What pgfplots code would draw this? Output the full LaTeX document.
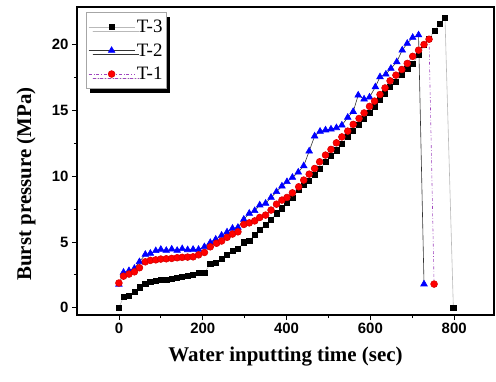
\documentclass[border=0pt]{standalone}
\usepackage{fontspec}
\setmainfont{Liberation Serif}
\setsansfont{Liberation Sans}
\usepackage{pgfplots}
\pgfplotsset{compat=1.18}
\usetikzlibrary{plotmarks,shadows}
\definecolor{tonepurple}{RGB}{160,70,190}
\begin{document}
\begin{tikzpicture}
\begin{axis}[
  name=ax,
  scale only axis,
  width=417bp, height=308bp,
  xmin=-100, xmax=895,
  ymin=-0.55, ymax=22.85,
  xtick={0,200,400,600,800},
  ytick={0,5,10,15,20},
  minor x tick num=1,
  minor y tick num=1,
  tick pos=left,
  tick align=outside,
  major tick length=5bp,
  minor tick length=3bp,
  every tick/.style={black, line width=0.8bp},
  axis line style={black, line width=1.1bp},
  /pgf/number format/assume math mode=true,
  tick label style={font=\sffamily\bfseries\fontsize{15}{15}\selectfont},
  xlabel={Water inputting time (sec)},
  ylabel={Burst pressure (MPa)},
  label style={font=\bfseries\fontsize{21}{21}\selectfont},
  xlabel style={at={(axis description cs:0.5,-0.1364)}, anchor=center},
  ylabel style={at={(axis description cs:-0.1223,0.425)}, anchor=center},
  legend style={at={(axis description cs:0.0216,0.983)}, anchor=north west,
    draw=gray!70, line width=0.6bp, fill=white,
    font=\fontsize{19}{19}\selectfont,
    inner xsep=2bp, inner ysep=5.5bp, row sep=5.5bp,
    cells={anchor=west},
    drop shadow={shadow xshift=4bp, shadow yshift=-4bp, fill=black, opacity=1}},
  legend image code/.code={%
    \draw[mark repeat=2,mark phase=2] plot coordinates {(0bp,0bp) (23bp,0bp) (46bp,0bp)};},
]
\addplot[color=gray!55, line width=0.6bp, mark=square*, mark size=2.6bp,
  mark options={solid, fill=black, draw=black}] coordinates {
(0,0) (11,0.84) (24,0.89) (37,1.22) (49,1.55) (63,1.85) (75,1.98) (88,2.05)
(100,2.1) (113,2.15) (126,2.23) (139,2.3) (151,2.35) (164,2.4) (177,2.48)
(190,2.66) (204,2.66) (218,3.32) (231,3.42) (246,3.7) (258,4.0) (271,4.33)
(284,4.46) (298,4.97) (311,5.06) (324,5.57) (336,5.95) (350,6.33) (363,6.71)
(376,7.17) (389,7.55) (401,7.97) (414,8.38) (429,8.94) (441,9.32) (454,9.65)
(468,10.08) (480,10.53) (493,11.09) (506,11.54) (519,11.97) (532,12.48)
(546,12.98) (559,13.42) (572,13.87) (585,14.33) (598,14.84) (610,15.3)
(623,15.8) (635,16.3) (647,16.78) (661,17.16) (675,17.67) (688,18.18)
(701,18.56) (715,19.19) (728,19.95) (740,20.45) (753,21.03) (766,21.6)
(778,22.05) (798,0)
};
\addlegendentry{T-3}
\addplot[color=gray!40!black, line width=0.6bp, mark=triangle*, mark size=3.8bp,
  mark options={solid, fill=blue, draw=blue}] coordinates {
(0,1.78) (11,2.69) (24,2.81) (37,2.99) (49,3.49) (63,4.05) (75,4.13) (88,4.33)
(100,4.43) (113,4.35) (126,4.45) (139,4.35) (151,4.48) (164,4.4) (177,4.43)
(190,4.43) (204,4.63) (218,4.95) (231,5.2) (245,5.5) (258,5.75) (271,6.03)
(284,6.1) (298,6.71) (311,7.17) (324,7.37) (336,7.8) (350,7.93) (363,8.38)
(376,8.81) (389,9.24) (401,9.57) (414,9.9) (428,10.3) (441,10.78) (454,11.9)
(467,13.04) (480,13.4) (493,13.5) (506,13.57) (519,13.67) (532,13.87)
(546,14.46) (559,14.9) (571,16.15) (585,15.85) (598,16.0) (612,16.78)
(623,17.54) (637,17.74) (649,18.18) (663,18.68) (676,19.57) (688,20.08)
(701,20.53) (715,20.72) (728,1.8)
};
\addlegendentry{T-2}
\addplot[color=tonepurple, line width=0.6bp, dash dot, mark=*, mark size=3.4bp,
  mark options={solid, fill=red, draw=red!85!black}] coordinates {
(0,1.88) (11,2.4) (24,2.56) (37,2.73) (49,3.04) (63,3.49) (75,3.6) (88,3.64)
(100,3.7) (113,3.72) (126,3.75) (139,3.8) (151,3.83) (164,3.85) (177,3.87)
(190,4.02) (204,4.2) (218,4.63) (233,4.9) (245,5.07) (258,5.35) (271,5.6)
(284,5.77) (298,6.33) (311,6.45) (324,6.6) (336,6.86) (350,7.04) (363,7.42)
(376,7.87) (389,8.18) (401,8.38) (414,8.73) (429,9.19) (441,9.7) (454,10.15)
(467,10.58) (479,11.09) (493,11.6) (506,12.03) (519,12.53) (532,12.98)
(546,13.42) (559,13.93) (573,14.38) (585,14.8) (598,15.3) (610,15.7)
(623,16.2) (635,16.7) (647,17.24) (661,17.67) (675,18.1) (688,18.56)
(701,19.1) (715,19.57) (728,20.0) (740,20.4) (752,1.8)
};
\addlegendentry{T-1}
\end{axis}
\path ([xshift=-77bp,yshift=-67bp]ax.south west) rectangle ([xshift=2bp,yshift=7bp]ax.north east);
\end{tikzpicture}
\end{document}
